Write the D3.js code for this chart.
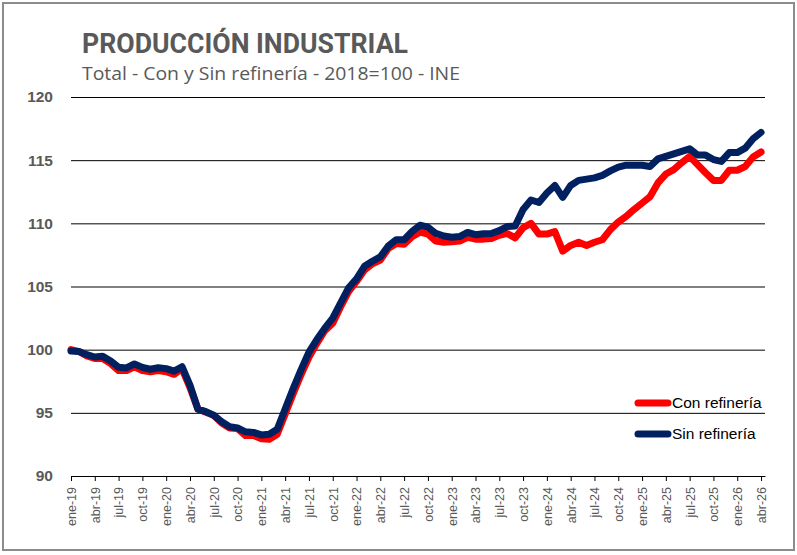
<!DOCTYPE html>
<html>
<head>
<meta charset="utf-8">
<script src="https://cdn.jsdelivr.net/npm/d3@7/dist/d3.min.js"></script>
<style>
  body { margin: 0; background: #fff; }
  svg { display: block; }
</style>
</head>
<body>
<div id="chart"></div>
<script>
// etiquetas del eje x (cada 3 meses)
var tickLabels = ["ene-19","abr-19","jul-19","oct-19","ene-20","abr-20","jul-20","oct-20",
  "ene-21","abr-21","jul-21","oct-21","ene-22","abr-22","jul-22","oct-22",
  "ene-23","abr-23","jul-23","oct-23","ene-24","abr-24","jul-24","oct-24",
  "ene-25","abr-25","jul-25","oct-25","ene-26","abr-26"];

var yTicks = [90, 95, 100, 105, 110, 115, 120];

// ene-19 ... abr-26, mensual
var conRefineria = [
  100.0, 99.85, 99.5, 99.3, 99.3, 98.9, 98.35, 98.35, 98.65, 98.35, 98.25, 98.35,
  98.25, 98.05, 98.5, 97.0, 95.3, 95.05, 94.8, 94.2, 93.8, 93.75, 93.2, 93.2,
  92.95, 92.9, 93.3, 94.9, 96.5, 98.0, 99.4, 100.5, 101.5, 102.1, 103.4, 104.6,
  105.4, 106.3, 106.8, 107.1, 108.0, 108.4, 108.35, 108.95, 109.3, 109.15, 108.6, 108.5,
  108.55, 108.6, 108.9, 108.75, 108.75, 108.8, 109.05, 109.2, 108.85, 109.65, 110.0, 109.15,
  109.15, 109.35, 107.8, 108.25, 108.5, 108.25, 108.5, 108.7, 109.5, 110.1, 110.55, 111.1,
  111.6, 112.1, 113.2, 113.9, 114.25, 114.8, 115.3, 114.65, 114.0, 113.4, 113.4, 114.2,
  114.2, 114.5, 115.25, 115.65
];

var sinRefineria = [
  99.9, 99.85, 99.6, 99.42, 99.47, 99.1, 98.6, 98.55, 98.87, 98.6, 98.45, 98.57,
  98.5, 98.3, 98.65, 97.2, 95.3, 95.1, 94.8, 94.3, 93.9, 93.8, 93.5, 93.45,
  93.25, 93.3, 93.7, 95.3, 96.9, 98.4, 99.8, 100.8, 101.7, 102.5, 103.7, 104.9,
  105.6, 106.6, 107.0, 107.35, 108.2, 108.7, 108.7, 109.35, 109.85, 109.7, 109.2, 109.0,
  108.9, 108.95, 109.28, 109.1, 109.18, 109.2, 109.42, 109.75, 109.78, 111.1, 111.85, 111.65,
  112.4, 113.0, 112.05, 113.0, 113.4, 113.5, 113.6, 113.8, 114.15, 114.45, 114.6, 114.6,
  114.6, 114.5, 115.1, 115.3, 115.5, 115.7, 115.9, 115.4, 115.4, 115.05, 114.9, 115.6,
  115.6, 115.95, 116.7, 117.2
];

var W = 797, H = 555;
var gray = "#595959";

var svg = d3.select("#chart").append("svg")
  .attr("width", W)
  .attr("height", H);

// marco
svg.append("rect")
  .attr("x", 3).attr("y", 3)
  .attr("width", 791).attr("height", 547)
  .attr("fill", "#fff")
  .attr("stroke", "#8c8c8c")
  .attr("stroke-width", 2);

// titulos
svg.append("text")
  .attr("x", 82).attr("y", 53)
  .attr("textLength", 326).attr("lengthAdjust", "spacingAndGlyphs")
  .style("font-family", "Roboto, 'Liberation Sans', sans-serif")
  .style("font-weight", "bold")
  .style("font-size", "28px")
  .style("fill", gray)
  .text("PRODUCCIÓN INDUSTRIAL");

svg.append("text")
  .attr("x", 82).attr("y", 80)
  .attr("textLength", 378).attr("lengthAdjust", "spacingAndGlyphs")
  .style("font-family", "'Open Sans', 'Noto Sans', sans-serif")
  .style("font-size", "17.5px")
  .style("fill", gray)
  .text("Total - Con y Sin refinería - 2018=100 - INE");

var x = d3.scaleLinear().domain([0, 87.5]).range([71, 765]);
var y = d3.scaleLinear().domain([90, 120]).range([476, 97]);

// eje y + grilla
var gy = svg.append("g")
  .attr("transform", "translate(71,0)")
  .call(d3.axisLeft(y).tickValues(yTicks).tickSize(-694).tickPadding(18));
gy.select(".domain").remove();
gy.selectAll(".tick line").attr("stroke", "#000").attr("stroke-width", 1);
gy.selectAll(".tick text")
  .style("font-family", "'Liberation Sans', Arial, sans-serif")
  .style("font-weight", "bold")
  .style("font-size", "15.5px")
  .style("fill", gray);

// eje x
var gx = svg.append("g")
  .attr("transform", "translate(0,476)")
  .call(d3.axisBottom(x)
    .tickValues(d3.range(0, 88, 3))
    .tickSize(5)
    .tickSizeOuter(0)
    .tickFormat(function(d, i) { return tickLabels[i]; }));
gx.select(".domain").attr("stroke", "#000");
gx.selectAll(".tick line").attr("stroke", "#000");
gx.selectAll(".tick text")
  .attr("transform", "rotate(-90)")
  .attr("x", -11)
  .attr("y", 0)
  .attr("dy", "0.35em")
  .attr("text-anchor", "end")
  .style("font-family", "'Liberation Sans', Arial, sans-serif")
  .style("font-size", "12.5px")
  .style("fill", gray);

// lineas
var line = d3.line()
  .x(function(d, i) { return x(i); })
  .y(function(d) { return y(d); });

svg.append("path")
  .datum(conRefineria)
  .attr("d", line)
  .attr("fill", "none")
  .attr("stroke", "#f00")
  .attr("stroke-width", 7)
  .attr("stroke-linejoin", "round")
  .attr("stroke-linecap", "round");

svg.append("path")
  .datum(sinRefineria)
  .attr("d", line)
  .attr("fill", "none")
  .attr("stroke", "#002060")
  .attr("stroke-width", 7)
  .attr("stroke-linejoin", "round")
  .attr("stroke-linecap", "round");

// leyenda
var legend = [
  { name: "Con refinería", color: "#f00" },
  { name: "Sin refinería", color: "#002060" }
];

var lg = svg.selectAll(".legend")
  .data(legend)
  .enter()
  .append("g")
    .attr("class", "legend")
    .attr("transform", function(d, i) { return "translate(0," + (403 + i * 31) + ")"; });

lg.append("line")
  .attr("x1", 638).attr("x2", 668)
  .attr("stroke", function(d) { return d.color; })
  .attr("stroke-width", 7)
  .attr("stroke-linecap", "round");

lg.append("text")
  .attr("x", 672)
  .attr("dy", "0.35em")
  .style("font-family", "'Liberation Sans', Arial, sans-serif")
  .style("font-size", "15.5px")
  .style("fill", "#000")
  .text(function(d) { return d.name; });
</script>
</body>
</html>
